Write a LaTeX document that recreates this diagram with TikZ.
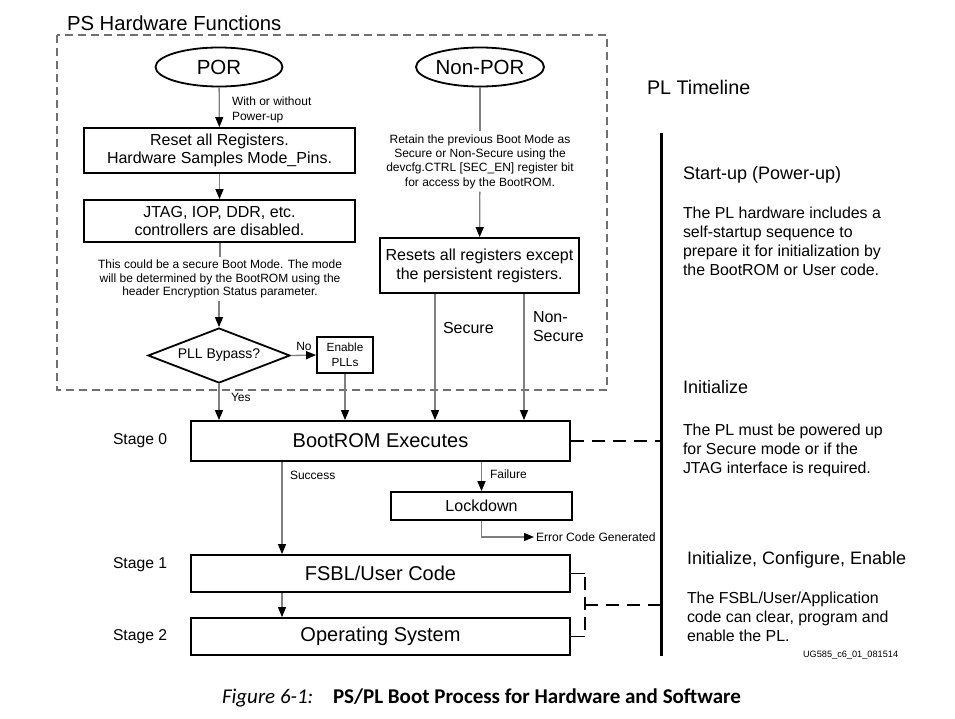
\documentclass[tikz,border=0pt]{standalone}
\usepackage{fontspec}
\setmainfont{Liberation Sans}
\newfontfamily\capfont{Carlito}
\usetikzlibrary{arrows.meta,shapes.geometric,calc}
\definecolor{lgray}{HTML}{7F7F7F}
\definecolor{dgray}{HTML}{707070}
\newcommand{\fs}[2]{\fontsize{#1}{#2}\selectfont}
\tikzset{
  box/.style={draw=black, line width=1.8pt, inner sep=0pt, align=center, fill=white},
  oval/.style={ellipse, draw=black, line width=1.8pt, inner sep=0pt},
  arr/.style={draw=lgray, line width=1.3pt, -{Triangle[length=10pt,width=8pt,color=black]}},
  plain/.style={draw=lgray, line width=1.3pt},
  dashblk/.style={draw=black, line width=1.8pt, dash pattern=on 13pt off 8pt},
  txt/.style={inner sep=0pt, outer sep=0pt},
  note/.style={inner sep=3pt, align=center},
}
\begin{document}
\begin{tikzpicture}[x=1pt,y=-1pt]
\useasboundingbox (0,0) rectangle (955,718);
% outer dashed frame
\draw[draw=dgray, line width=1.3pt, dash pattern=on 8pt off 5pt] (57,35) rectangle (607,390);
\node[txt, anchor=base west, font=\fs{20.3}{24}] (pshw) at (67,30) {PS Hardware Functions};

% left column
\node[oval, minimum width=127pt, minimum height=39pt, font=\fs{20.5}{24}] (por) at (219,67) {POR};
\node[box, minimum width=271pt, minimum height=45pt, font=\fs{16}{18.5}] (reset) at (219.5,150.5) {Reset all Registers.\\Hardware Samples Mode\_Pins.};
\node[txt, anchor=west, align=left, font=\fs{12}{14.5}] (wow) at (232,110) {With or without\\Power-up};
\node[box, minimum width=271pt, minimum height=42pt, font=\fs{16}{18.5}] (jtag) at (219.5,221) {JTAG, IOP, DDR, etc.\\controllers are disabled.};
\node[note, font=\fs{12}{13.5}] (sec) at (220,279) {This could be a secure Boot Mode. The mode\\will be determined by the BootROM using the\\header Encryption Status parameter.};
\node[diamond, aspect=2.58, draw=black, line width=1.8pt, inner sep=0pt, minimum width=142pt, minimum height=55pt, font=\fs{14}{16}] (dia) at (219,355.5) {PLL Bypass?};
\node[box, minimum width=56pt, minimum height=36pt, font=\fs{11.8}{14.5}] (pll) at (345,355) {Enable\\PLLs};

% right column
\node[oval, minimum width=128pt, minimum height=39pt, font=\fs{20.5}{24}] (npor) at (480,67) {Non-POR};
\node[note, font=\fs{12}{14.3}] (ret) at (480,161.5) {Retain the previous Boot Mode as\\Secure or Non-Secure using the\\devcfg.CTRL [SEC\_EN] register bit\\for access by the BootROM.};
\node[box, minimum width=199pt, minimum height=55pt, font=\fs{16}{19}] (rst2) at (479.5,265.5) {Resets all registers except\\the persistent registers.};

% stages
\node[box, minimum width=379pt, minimum height=40pt, font=\fs{20}{22}] (boot) at (380.5,441) {BootROM Executes};
\node[box, minimum width=181pt, minimum height=28pt, font=\fs{16}{18}] (lock) at (481.5,506) {Lockdown};
\node[txt, anchor=west, inner sep=2pt, font=\fs{12.1}{14}] (err) at (534,537) {Error Code Generated};
\node[box, minimum width=379pt, minimum height=37pt, font=\fs{20}{22}] (fsbl) at (380.5,573.5) {FSBL/User Code};
\node[box, minimum width=379pt, minimum height=37pt, font=\fs{20}{22}] (os) at (380.5,636.5) {Operating System};
\node[txt, anchor=west, font=\fs{15.7}{18}] (st0) at (113,441) {Stage 0};
\node[txt, anchor=west, font=\fs{15.7}{18}] (st1) at (113,565) {Stage 1};
\node[txt, anchor=west, font=\fs{15.7}{18}] (st2) at (113,637) {Stage 2};

% connectors
\draw[arr] (por) -- (reset);
\draw[arr] (reset) -- (jtag);
\draw[plain] (jtag.south -| sec.north) -- (sec.north);
\draw[arr] (sec.south -| dia.north) -- (dia.north);
\draw[arr] (dia.east) -- (pll.west);
\node[txt, anchor=south, font=\fs{12}{14}] (no) at (304,351) {No};
\draw[arr] (dia.south) -- (dia.south |- boot.north);
\node[txt, anchor=west, font=\fs{12}{14}] (yes) at (231,397) {Yes};
\draw[arr] (pll.south) -- (pll.south |- boot.north);
\draw[plain] (npor) -- (ret);
\draw[arr] (ret) -- (rst2);
\draw[arr] ([xshift=-44.5pt]rst2.south) -- ([xshift=-44.5pt]rst2.south |- boot.north);
\draw[arr] ([xshift=44.5pt]rst2.south) -- ([xshift=44.5pt]rst2.south |- boot.north);
\node[txt, anchor=west, font=\fs{16}{19}] (secl) at (443,328) {Secure};
\node[txt, anchor=west, align=left, font=\fs{16}{19}] (nsecl) at (533,327) {Non-\\Secure};
\draw[arr] ([xshift=-98.5pt]boot.south) -- ([xshift=-98.5pt]fsbl.north);
\node[txt, anchor=west, font=\fs{12}{14}] (succ) at (290,475) {Success};
\draw[arr] (lock.north |- boot.south) -- (lock.north);
\node[txt, anchor=west, font=\fs{12}{14}] (fail) at (490,474) {Failure};
\draw[arr] (lock.south) |- (err.west);
\draw[arr] ([xshift=-98.5pt]fsbl.south) -- ([xshift=-98.5pt]os.north);

% PL timeline
\coordinate (tltop) at (661,133);
\coordinate (tlbot) at (661,656);
\draw[line width=3pt] (tltop) -- (tlbot);
\coordinate (brk) at (585,605);
\draw[dashblk] (boot.east) -- (boot.east -| tltop);
\draw[draw=black, line width=1.8pt] (fsbl.east) -- (fsbl.east -| brk);
\draw[draw=black, line width=1.8pt] (os.east) -- (os.east -| brk);
\draw[draw=black, line width=1.8pt, dash pattern=on 13pt off 7pt, dash phase=-3pt] (fsbl.east -| brk) -- (os.east -| brk);
\draw[dashblk] (brk) -- (brk -| tltop);

\node[txt, anchor=base west, font=\fs{19.7}{24}] (plt) at (647,94) {PL Timeline};
\node[txt, anchor=base west, font=\fs{18}{21}] (h1) at (683,179) {Start-up (Power-up)};
\node[txt, anchor=north west, align=left, font=\fs{15.9}{19}] (p1) at (683,206.5) {The PL hardware includes a\\self-startup sequence to\\prepare it for initialization by\\the BootROM or User code.};
\node[txt, anchor=base west, font=\fs{18}{21}] (h2) at (683,393) {Initialize};
\node[txt, anchor=north west, align=left, font=\fs{15.9}{19}] (p2) at (683,423.5) {The PL must be powered up\\for Secure mode or if the\\JTAG interface is required.};
\node[txt, anchor=base west, font=\fs{18}{21}] (h3) at (687,564) {Initialize, Configure, Enable};
\node[txt, anchor=north west, align=left, font=\fs{15.9}{19}] (p3) at (687,591.5) {The FSBL/User/Application\\code can clear, program and\\enable the PL.};
\node[txt, anchor=base west, font=\fs{9.2}{11}] (ug) at (803,657) {UG585\_c6\_01\_081514};

% caption
\node[txt, anchor=base west, font=\capfont\fs{21}{24}\itshape] (figl) at (222,703) {Figure 6-1:};
\node[txt, anchor=base west, font=\capfont\fs{21}{24}\bfseries] (figt) at (333,703) {PS/PL Boot Process for Hardware and Software};
\end{tikzpicture}
\end{document}
